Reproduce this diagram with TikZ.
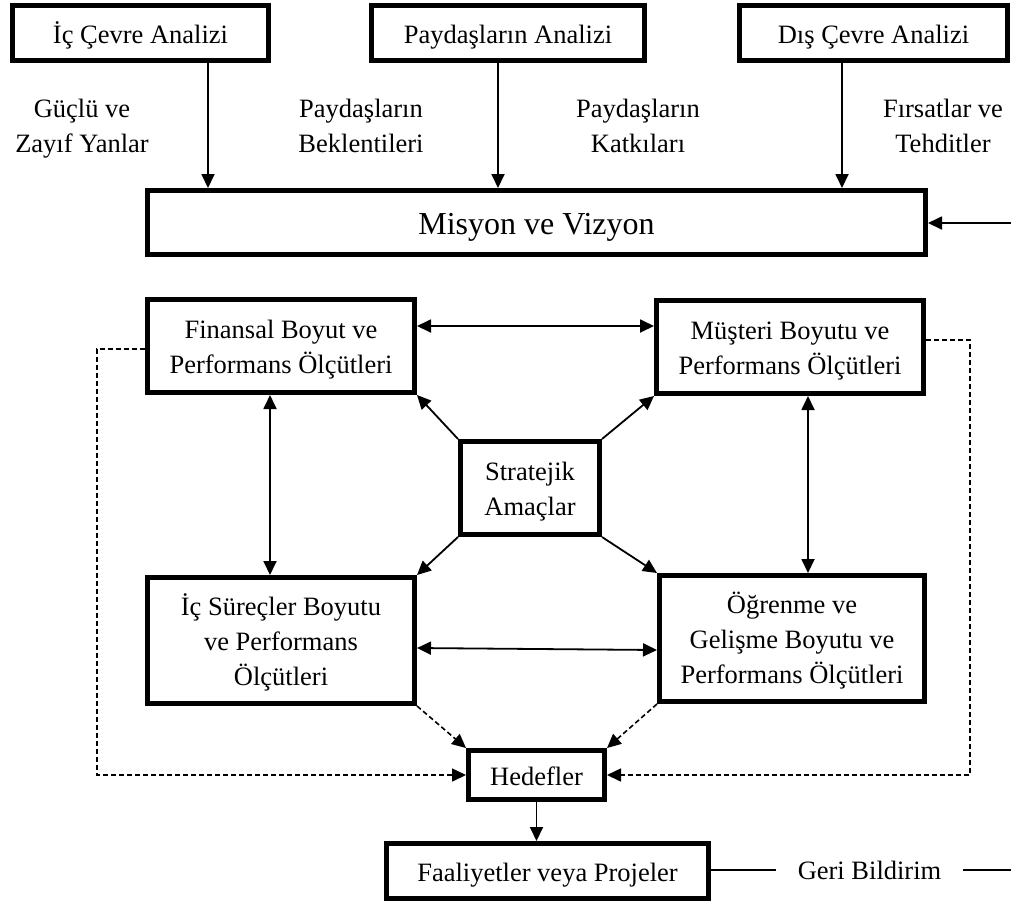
\documentclass[tikz,border=0pt]{standalone}
\usepackage{fontspec}
\setmainfont{Liberation Serif}
\usetikzlibrary{arrows.meta,calc}

% fixed line struts so every line sits at the same height
\newcommand\lnstrut{\rule[-7.5pt]{0pt}{35pt}}
\newcommand\mvstrut{\rule[-5pt]{0pt}{35pt}}

\begin{document}
\begin{tikzpicture}[x=1pt,y=-1pt,
  txt/.style={font=\fontsize{26.5}{35}\selectfont},
  box/.style={txt,draw,line width=5pt,fill=white,inner sep=0pt,align=center},
  lbl/.style={txt,align=center,inner sep=0pt},
  arr/.style={line width=1.8pt,-{Triangle[length=14pt,width=13pt]}},
  darr/.style={line width=1.8pt,{Triangle[length=14pt,width=13pt]}-{Triangle[length=14pt,width=13pt]}},
  dsh/.style={line width=1.6pt,dash pattern=on 5pt off 3pt},
]
\useasboundingbox (0,0) rectangle (1011,903);

% analysis boxes on top
\node[box,minimum width=256pt,minimum height=55pt] (ic)  at (140.5,33) {\lnstrut İç Çevre Analizi};
\node[box,minimum width=273pt,minimum height=55pt] (pay) at (508,33)   {\lnstrut Paydaşların Analizi};
\node[box,minimum width=268pt,minimum height=55pt] (dis) at (873.5,33) {\lnstrut Dış Çevre Analizi};

\node[lbl] (l1) at (82,124.5)  {\lnstrut Güçlü ve\\\lnstrut Zayıf Yanlar};
\node[lbl] (l2) at (361,124.5) {\lnstrut Paydaşların\\\lnstrut Beklentileri};
\node[lbl] (l3) at (638,124.5) {\lnstrut Paydaşların\\\lnstrut Katkıları};
\node[lbl] (l4) at (943,124.5) {\lnstrut Fırsatlar ve\\\lnstrut Tehditler};

% mission and vision
\node[box,font=\fontsize{32}{38}\selectfont,minimum width=778pt,minimum height=64pt] (mis) at (536.5,222.5) {\mvstrut Misyon ve Vizyon};

% perspectives
\node[box,minimum width=267pt,minimum height=93pt]  (fin) at (281,346)   {\lnstrut Finansal Boyut ve\\\lnstrut Performans Ölçütleri};
\node[box,minimum width=267pt,minimum height=93pt]  (mus) at (790,347)   {\lnstrut Müşteri Boyutu ve\\\lnstrut Performans Ölçütleri};
\node[box,minimum width=139pt,minimum height=93pt]  (str) at (530,488)   {\lnstrut Stratejik\\\lnstrut Amaçlar};
\node[box,minimum width=267pt,minimum height=126pt] (ics) at (281,640.5) {\lnstrut İç Süreçler Boyutu\\\lnstrut ve Performans\\\lnstrut Ölçütleri};
\node[box,minimum width=265pt,minimum height=126pt] (ogr) at (792,638.5) {\lnstrut Öğrenme ve\\\lnstrut Gelişme Boyutu ve\\\lnstrut Performans Ölçütleri};

% targets and activities
\node[box,minimum width=136pt,minimum height=49pt] (hed) at (536.5,775) {\lnstrut Hedefler};
\node[box,minimum width=322pt,minimum height=55pt] (faa) at (547.5,871) {\lnstrut Faaliyetler veya Projeler};
\node[txt,inner xsep=22pt,inner ysep=0pt] (gb) at (869.5,869) {\lnstrut Geri Bildirim};

% helper coordinates
\coordinate (xa) at (208,0);
\coordinate (xb) at (498,0);
\coordinate (xc) at (842,0);
\coordinate (fbin) at (1011,223);
\coordinate (fbout) at (1011,870);
\coordinate (ya) at (0,326);
\coordinate (xl) at (270,0);
\coordinate (xr) at (808,0);
\coordinate (yb) at (0,648);
\coordinate (yc) at (0,650);
\coordinate (xL) at (97,0);
\coordinate (xR) at (970,0);
\coordinate (yd) at (0,340);
\coordinate (ye) at (0,349);
\coordinate (yf) at (0,870);

% inputs to mission
\draw[arr] (ic.south -| xa) -- (mis.north -| xa);
\draw[arr] (pay.south -| xb) -- (mis.north -| xb);
\draw[arr] (dis.south -| xc) -- (mis.north -| xc);
\draw[arr] (fbin) -- (mis.east |- fbin);

% links among perspectives
\draw[darr] (fin.east |- ya) -- (mus.west |- ya);
\draw[darr] (fin.south -| xl) -- (ics.north -| xl);
\draw[darr] (mus.south -| xr) -- (ogr.north -| xr);
\draw[darr] (ics.east |- yb) -- (ogr.west |- yc);

% strategic objectives to perspectives
\draw[arr] (str.north west) -- (fin.south east);
\draw[arr] (str.north east) -- (mus.south west);
\draw[arr] (str.south west) -- (ics.north east);
\draw[arr] (str.south east) -- (ogr.north west);

% dashed links to targets
\draw[arr,dsh] (ics.south east) -- (hed.north west);
\draw[arr,dsh] (ogr.south west) -- (hed.north east);
\draw[arr,dsh] (fin.west |- ye) -- (xL |- ye) |- (hed.west);
\draw[arr,dsh] (mus.east |- yd) -- (xR |- yd) |- (hed.east);

% activities and feedback
\draw[arr] (hed.south) -- (hed.south |- faa.north);
\draw[line width=1.8pt] (faa.east |- yf) -- (gb.west |- yf);
\draw[line width=1.8pt] (gb.east |- yf) -- (fbout);
\end{tikzpicture}
\end{document}
